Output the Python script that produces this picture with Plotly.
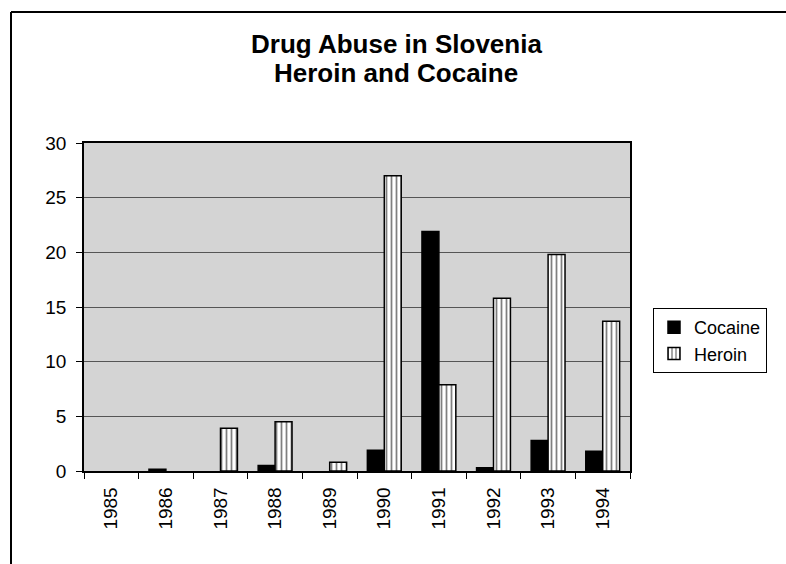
import plotly.graph_objects as go

years = ["1985", "1986", "1987", "1988", "1989", "1990", "1991", "1992", "1993", "1994"]
cocaine = [0, 0.15, 0, 0.5, 0, 1.9, 21.9, 0.3, 2.8, 1.8]
heroin = [0, 0, 3.9, 4.5, 0.8, 27, 7.9, 15.8, 19.8, 13.7]

W, H = 786, 564
L, R, T, B = 84, 156, 143, 93
pw, ph = W - L - R, H - T - B

def shown(vals):
    # zero-valued bars are invisible in the reference
    return [v if v > 0 else None for v in vals]

fig = go.Figure()
fig.add_trace(go.Bar(
    x=years, y=shown(cocaine), name="Cocaine",
    marker=dict(color="black", line=dict(color="black", width=1.5)),
))
fig.add_trace(go.Bar(
    x=years, y=shown(heroin), name="Heroin",
    marker=dict(color="white", line=dict(color="black", width=1.5),
                pattern=dict(shape="|", fgcolor="black", bgcolor="white",
                             size=5, solidity=0.35, fillmode="overlay")),
))

def px(x):
    return (x - L) / pw

def py(y):
    return (H - B - y) / ph

# outer chart frame (left and top edges visible in the reference)
fig.add_shape(type="line", xref="paper", yref="paper",
              x0=px(11), x1=px(800), y0=py(12), y1=py(12),
              line=dict(color="black", width=2))
fig.add_shape(type="line", xref="paper", yref="paper",
              x0=px(11), x1=px(11), y0=py(12), y1=py(580),
              line=dict(color="black", width=2))

title_lines = ["Drug Abuse in Slovenia", "Heroin and Cocaine"]
for txt, yc in zip(title_lines, [44, 73]):
    fig.add_annotation(text="<b>%s</b>" % txt, xref="paper", yref="paper",
                       x=px(396), y=py(yc), xanchor="center", yanchor="middle",
                       showarrow=False, font=dict(size=26, color="black"))

fig.update_layout(
    width=W, height=H,
    margin=dict(l=L, r=R, t=T, b=B),
    paper_bgcolor="white",
    plot_bgcolor="#d4d4d4",
    font=dict(family="Arial, Liberation Sans, sans-serif", size=19, color="black"),
    barmode="group", bargap=0.38, bargroupgap=0.0,
    showlegend=True,
    legend=dict(x=px(653), y=py(308), xanchor="left", yanchor="top",
                bgcolor="white", bordercolor="black", borderwidth=1,
                font=dict(size=18), itemwidth=30),
    xaxis=dict(
        type="category", tickangle=-90, ticks="outside", ticklen=6,
        tickson="boundaries", tickcolor="black", showline=True,
        linecolor="black", linewidth=1.5, mirror=True, showgrid=False,
        tickfont=dict(size=19), ticklabelstandoff=7,
    ),
    yaxis=dict(
        range=[0, 30], dtick=5, ticks="outside", ticklen=6,
        tickcolor="black", showline=True, linecolor="black", linewidth=1.5,
        mirror=True, showgrid=True, gridcolor="#555555", gridwidth=1,
        zeroline=False, tickfont=dict(size=19), ticklabelstandoff=6,
    ),
)

fig.write_html("out.html")
